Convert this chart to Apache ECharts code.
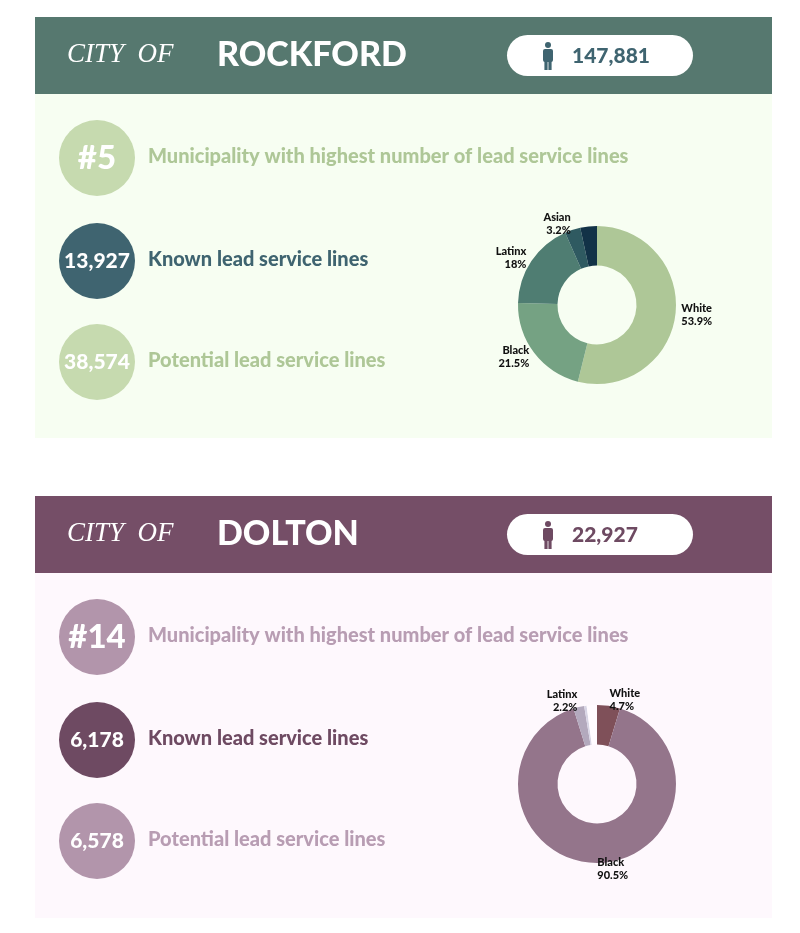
<!DOCTYPE html>
<html><head><meta charset="utf-8">
<style>html,body{margin:0;padding:0;background:#fff}#c{width:800px;height:933px}</style>
<script src="https://cdn.jsdelivr.net/npm/echarts@6/dist/echarts.min.js"></script>
</head><body><div id="c"></div>
<script>
const categories = ['White','Black','Latinx','Asian','Other'];
const rockfordShares = [53.9,21.5,18,3.2,3.4];
const doltonShares = [4.7,90.5,2.2,0.5,2.1];
const rockfordColors = ['#AEC797','#75A283','#4F7D72','#2F5A61','#123247'];
const doltonColors = ['#7F5059','#94758B','#B3A9BD','#D8D5E5','#FFFBFF'];
const rockfordLabelShift = [[0,0],[0,0],[0,0],[0,0],[0,0]];
const doltonLabelShift = [[0,0],[0,0],[0,0],[0,0],[0,0]];
const rowLabels = ['Municipality with highest number of lead service lines','Known lead service lines','Potential lead service lines'];
const rockford = {name:'ROCKFORD',pop:'147,881',vals:['#5','13,927','38,574'],top:17,bodyH:344,head:'#56786F',body:'#F7FEF2',
  strong:'#3F6470',light:'#C6DAAF',lightText:'#AEC797',cy:[158,261,362],shares:rockfordShares,colors:rockfordColors,pie:305};
const dolton = {name:'DOLTON',pop:'22,927',vals:['#14','6,178','6,578'],top:496,bodyH:345,head:'#754E67',body:'#FEF8FD',
  strong:'#6E4A62',light:'#B295AB',lightText:'#B89DB3',cy:[637,740,841],shares:doltonShares,colors:doltonColors,pie:784};
const FF = 'Lato, "Open Sans", sans-serif';
function txt(x,y,t,size,fill,align,weight,extra){
  return Object.assign({type:'text',z:3,style:{x,y,text:t,fill,align:align||'left',verticalAlign:'middle',textAlign:align||'left',textVerticalAlign:'middle',
    font:(weight||900)+' '+size+'px '+FF}},extra||{});
}
function panel(p){
  const g=[];
  g.push({type:'rect',z:0,shape:{x:35,y:p.top,width:737,height:77},style:{fill:p.head}});
  g.push({type:'rect',z:0,shape:{x:35,y:p.top+77,width:737,height:p.bodyH},style:{fill:p.body}});
  g.push({type:'text',z:3,style:{x:67,y:p.top+38,text:'CITY  OF',fill:'#fff',textAlign:'left',textVerticalAlign:'middle',
    font:'italic 400 27px "Liberation Serif", serif'}});
  g.push(txt(217,p.top+38,p.name,34,'#fff','left',900,{}));
  g.push({type:'rect',z:1,shape:{x:507,y:p.top+18,width:186,height:41,r:20.5},style:{fill:'#fff'}});
  const cx=548, t=p.top+25;
  g.push({type:'circle',z:2,shape:{cx,cy:t+3,r:3},style:{fill:p.strong}});
  g.push({type:'rect',z:2,shape:{x:cx-5,y:t+7,width:10,height:13,r:2},style:{fill:p.strong}});
  g.push({type:'rect',z:2,shape:{x:cx-3.6,y:t+18,width:3.2,height:10},style:{fill:p.strong}});
  g.push({type:'rect',z:2,shape:{x:cx+0.4,y:t+18,width:3.2,height:10},style:{fill:p.strong}});
  g.push(txt(572,p.top+39,p.pop,21,p.strong,'left',900));
  p.cy.forEach((cy,i)=>{
    const strong=i===1;
    g.push({type:'circle',z:1,shape:{cx:97,cy,r:38},style:{fill:strong?p.strong:p.light}});
    g.push(txt(97,cy,p.vals[i],i===0?33:21,'#fff','center',900));
    g.push(txt(148,cy-1,rowLabels[i],20,strong?p.strong:p.lightText,'left',900));
  });
  return g;
}
function pie(p,shift){
  return {type:'pie',z:2,center:[597,p.pie],radius:[39.5,79],startAngle:90,clockwise:true,avoidLabelOverlap:false,silent:true,
    itemStyle:{borderWidth:0},
    label:{show:true,position:'outside',formatter:'{b}\n{c}%',color:'#111',fontFamily:FF,fontWeight:900,fontSize:11,lineHeight:13,distanceToLabelLine:0},
    labelLine:{show:false,length:6,length2:0},
    data:categories.map((n,i)=>({name:n,value:p.shares[i],itemStyle:{color:p.colors[i]}}))};
}
const chart=echarts.init(document.getElementById('c'),null,{renderer:'canvas'});
chart.setOption({animation:false,backgroundColor:'#fff',
  graphic:{elements:[...panel(rockford),...panel(dolton)]},
  series:[pie(rockford,rockfordLabelShift),pie(dolton,doltonLabelShift)]});
</script></body></html>
